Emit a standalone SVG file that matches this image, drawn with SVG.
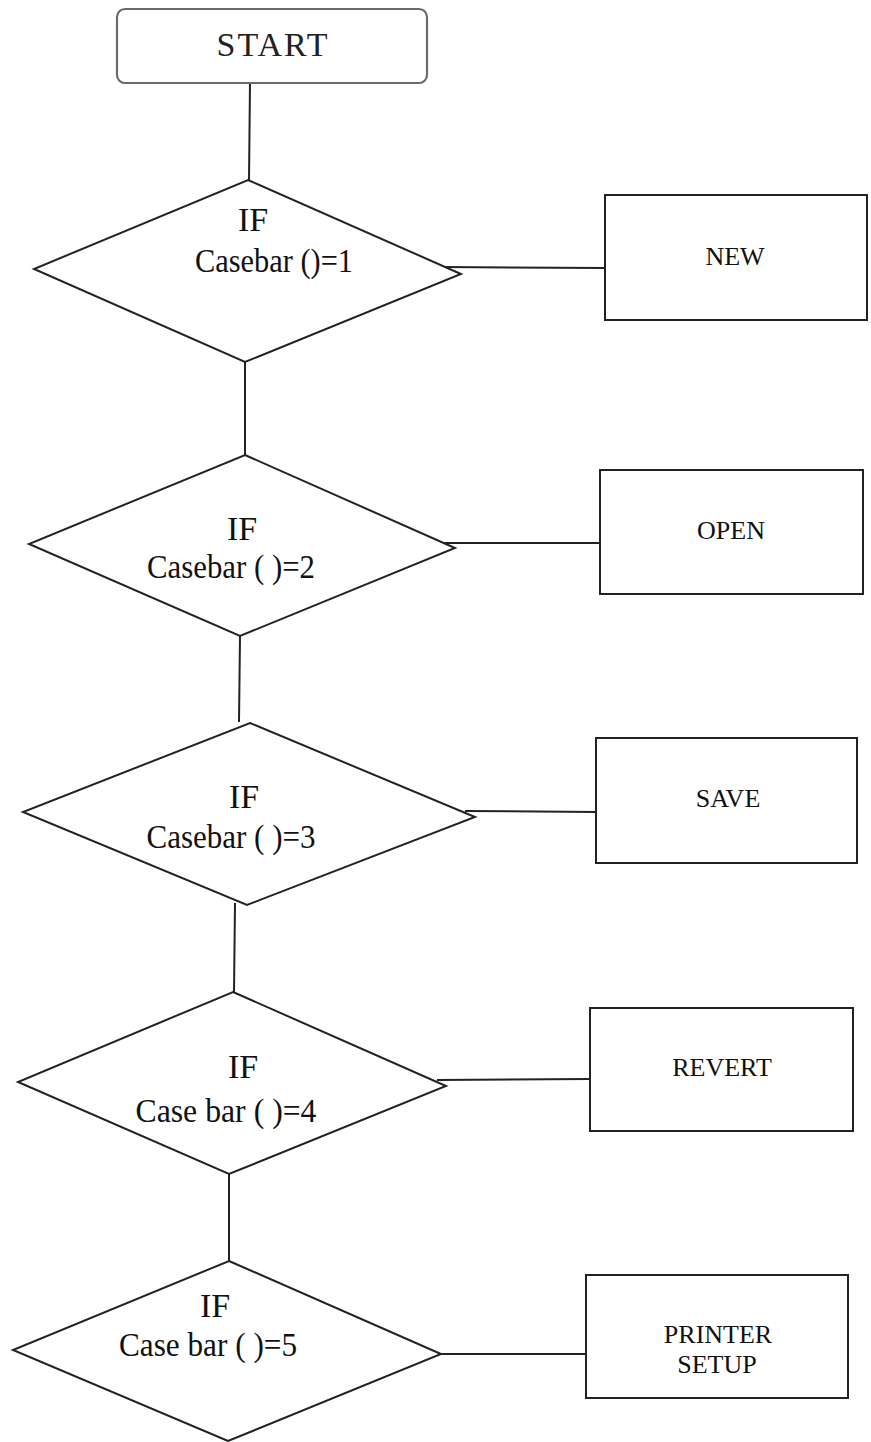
<svg xmlns="http://www.w3.org/2000/svg" width="871" height="1442" viewBox="0 0 871 1442">
  <style>
    .shape { fill: #ffffff; stroke: #222222; stroke-width: 2; }
    .term { fill: #ffffff; stroke: #6a6a6a; stroke-width: 2.2; }
    .wire { fill: none; stroke: #222222; stroke-width: 2; }
    .cond { font-family: 'Liberation Serif', 'Times New Roman', serif; font-size: 34px; fill: #111111; text-anchor: middle; }
    .act { font-family: 'Liberation Serif', 'Times New Roman', serif; font-size: 26px; fill: #111111; text-anchor: middle; }
    .title { font-family: 'Liberation Serif', 'Times New Roman', serif; font-size: 34px; fill: #222222; text-anchor: middle; letter-spacing: 2px; }
  </style>
  <rect width="871" height="1442" fill="#ffffff"/>

  <!-- connectors -->
  <g id="connectors">
    <line class="wire" x1="250" y1="83" x2="249" y2="180"/>
    <line class="wire" x1="245" y1="362" x2="245" y2="455"/>
    <line class="wire" x1="240" y1="636" x2="239" y2="722"/>
    <line class="wire" x1="235" y1="903" x2="234" y2="992"/>
    <line class="wire" x1="229" y1="1174" x2="229" y2="1261"/>
    <line class="wire" x1="442" y1="267" x2="605" y2="268"/>
    <line class="wire" x1="443" y1="543" x2="600" y2="543"/>
    <line class="wire" x1="465" y1="811" x2="596" y2="812"/>
    <line class="wire" x1="437" y1="1080" x2="590" y2="1079"/>
    <line class="wire" x1="441" y1="1354" x2="586" y2="1354"/>
  </g>

  <!-- start terminal -->
  <g id="start">
    <rect class="term" x="117" y="9" width="310" height="74" rx="8" ry="8"/>
    <text class="title" x="273" y="56">START</text>
  </g>

  <!-- decisions -->
  <g id="cond1">
    <polygon class="shape" points="248,180 461,274 245,362 34,269"/>
    <text class="cond" x="253" y="231">IF</text>
    <text class="cond" x="274" y="272" textLength="158" lengthAdjust="spacingAndGlyphs">Casebar ()=1</text>
  </g>
  <g id="cond2">
    <polygon class="shape" points="245,455 455,548 240,636 29,544"/>
    <text class="cond" x="242" y="540">IF</text>
    <text class="cond" x="231" y="578" textLength="168" lengthAdjust="spacingAndGlyphs">Casebar ( )=2</text>
  </g>
  <g id="cond3">
    <polygon class="shape" points="250,723 475,817 247,905 23,812"/>
    <text class="cond" x="244" y="808">IF</text>
    <text class="cond" x="231" y="848" textLength="169" lengthAdjust="spacingAndGlyphs">Casebar ( )=3</text>
  </g>
  <g id="cond4">
    <polygon class="shape" points="233,992 446,1086 229,1174 18,1082"/>
    <text class="cond" x="243" y="1078">IF</text>
    <text class="cond" x="226" y="1122" textLength="181" lengthAdjust="spacingAndGlyphs">Case bar ( )=4</text>
  </g>
  <g id="cond5">
    <polygon class="shape" points="229,1261 441,1354 228,1441 13,1350"/>
    <text class="cond" x="215" y="1317">IF</text>
    <text class="cond" x="208" y="1356" textLength="178" lengthAdjust="spacingAndGlyphs">Case bar ( )=5</text>
  </g>

  <!-- actions -->
  <g id="act-new">
    <rect class="shape" x="605" y="195" width="262" height="125"/>
    <text class="act" x="735" y="265">NEW</text>
  </g>
  <g id="act-open">
    <rect class="shape" x="600" y="470" width="263" height="124"/>
    <text class="act" x="731" y="539">OPEN</text>
  </g>
  <g id="act-save">
    <rect class="shape" x="596" y="738" width="261" height="125"/>
    <text class="act" x="728" y="807">SAVE</text>
  </g>
  <g id="act-revert">
    <rect class="shape" x="590" y="1008" width="263" height="123"/>
    <text class="act" x="722" y="1076">REVERT</text>
  </g>
  <g id="act-printer">
    <rect class="shape" x="586" y="1275" width="262" height="123"/>
    <text class="act" x="718" y="1343">PRINTER</text>
    <text class="act" x="717" y="1373">SETUP</text>
  </g>
</svg>
